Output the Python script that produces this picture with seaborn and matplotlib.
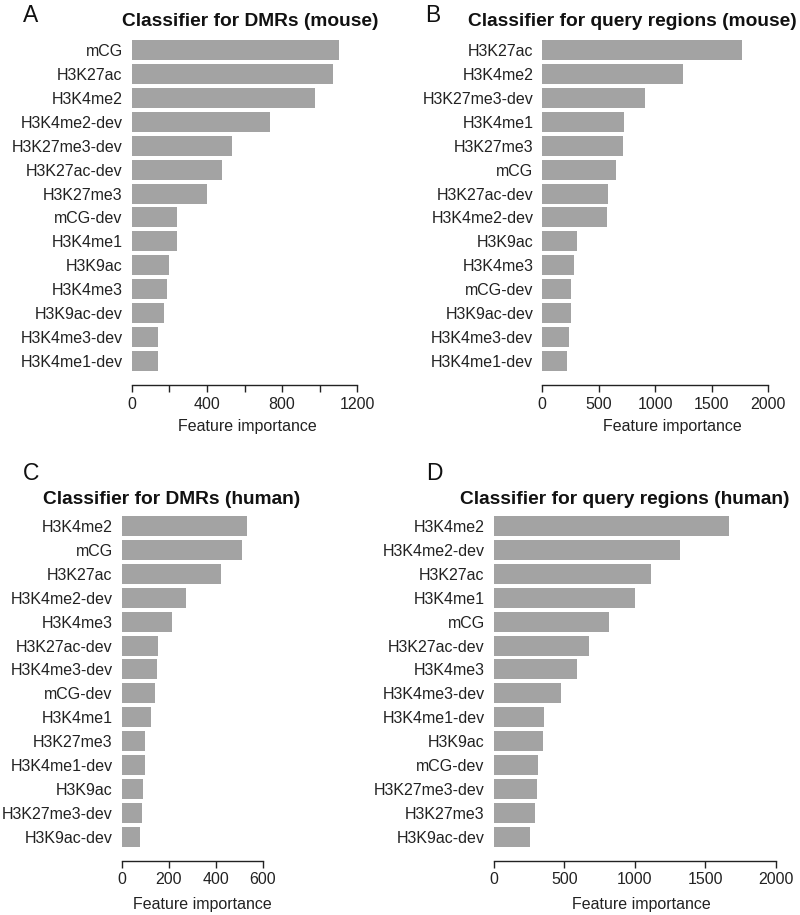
import matplotlib
matplotlib.use("Agg")
import matplotlib.pyplot as plt
import seaborn as sns
import pandas as pd

sns.set_style("white")
plt.rcParams['font.family'] = ['Liberation Sans', 'DejaVu Sans']

# ---- data ----
labels_a = ["mCG", "H3K27ac", "H3K4me2", "H3K4me2-dev", "H3K27me3-dev", "H3K27ac-dev",
            "H3K27me3", "mCG-dev", "H3K4me1", "H3K9ac", "H3K4me3", "H3K9ac-dev",
            "H3K4me3-dev", "H3K4me1-dev"]
values_a = [1101, 1072, 977, 734, 533, 482, 402, 243, 239, 200, 188, 172, 140, 138]

labels_b = ["H3K27ac", "H3K4me2", "H3K27me3-dev", "H3K4me1", "H3K27me3", "mCG",
            "H3K27ac-dev", "H3K4me2-dev", "H3K9ac", "H3K4me3", "mCG-dev", "H3K9ac-dev",
            "H3K4me3-dev", "H3K4me1-dev"]
values_b = [1773, 1244, 907, 727, 712, 650, 582, 576, 304, 281, 254, 251, 236, 216]

labels_c = ["H3K4me2", "mCG", "H3K27ac", "H3K4me2-dev", "H3K4me3", "H3K27ac-dev",
            "H3K4me3-dev", "mCG-dev", "H3K4me1", "H3K27me3", "H3K4me1-dev", "H3K9ac",
            "H3K27me3-dev", "H3K9ac-dev"]
values_c = [531, 511, 422, 272, 212, 153, 149, 143, 126, 99, 98, 89, 85, 79]

labels_d = ["H3K4me2", "H3K4me2-dev", "H3K27ac", "H3K4me1", "mCG", "H3K27ac-dev",
            "H3K4me3", "H3K4me3-dev", "H3K4me1-dev", "H3K9ac", "mCG-dev", "H3K27me3-dev",
            "H3K27me3", "H3K9ac-dev"]
values_d = [1667, 1324, 1118, 1002, 818, 678, 593, 480, 357, 348, 317, 310, 293, 255]

titles = ["Classifier for DMRs (mouse)", "Classifier for query regions (mouse)",
          "Classifier for DMRs (human)", "Classifier for query regions (human)"]
panel_letters = ["A", "B", "C", "D"]
xlabel = "Feature importance"
ticks_a = [0, 200, 400, 600, 800, 1000, 1200]
ticklabels_a = ["0", "", "400", "", "800", "", "1200"]
ticks_b = [0, 500, 1000, 1500, 2000]
ticklabels_b = ["0", "500", "1000", "1500", "2000"]
ticks_c = [0, 200, 400, 600]
ticklabels_c = ["0", "200", "400", "600"]
ticks_d = ticks_b
ticklabels_d = ticklabels_b

W, H = 800, 915
fig = plt.figure(figsize=(W / 100, H / 100), dpi=100)

BAR_COLOR = "#a3a3a3"
FS = 11.5

# layout in pixels: (x0 at 0, x1 at max tick, first bar center, last bar center, axis y)
panels = [
    (labels_a, values_a, ticks_a, ticklabels_a, (131.7, 357.3, 50.0, 361.0, 385.0),
     (121.7, 22.0), (22.7, 16.0), (247.0, 426.7)),
    (labels_b, values_b, ticks_b, ticklabels_b, (542.3, 768.0, 50.0, 361.0, 385.0),
     (468.3, 22.0), (425.0, 16.0), (672.5, 426.7)),
    (labels_c, values_c, ticks_c, ticklabels_c, (121.7, 263.0, 526.0, 836.7, 860.5),
     (43.3, 499.0), (22.7, 473.3), (202.0, 904.0)),
    (labels_d, values_d, ticks_d, ticklabels_d, (493.7, 775.7, 526.0, 836.7, 860.5),
     (460.0, 499.0), (426.0, 473.3), (641.0, 904.0)),
]

for i, (labs, vals, ticks, tlabs, (x0, x1, c0, cl, yax), tpos, lpos, xlpos) in enumerate(panels):
    n = len(labs)
    pitch = (cl - c0) / (n - 1)
    top = c0 - 16
    ax = fig.add_axes([x0 / W, 1 - yax / H, (x1 - x0) / W, (yax - top) / H])
    df = pd.DataFrame({"feature": labs, "importance": vals})
    sns.barplot(data=df, x="importance", y="feature", orient="h", color=BAR_COLOR,
                width=20 / pitch, saturation=1, edgecolor="none", linewidth=0, ax=ax)
    ax.set_xlim(0, ticks[-1])
    ax.set_ylim((yax - c0) / pitch, (top - c0) / pitch)
    for s in ["top", "right", "left"]:
        ax.spines[s].set_visible(False)
    ax.spines["bottom"].set_bounds(0, ticks[-1])
    ax.spines["bottom"].set_linewidth(1.0)
    ax.spines["bottom"].set_color("#222222")
    ax.set_xticks(ticks)
    ax.set_xticklabels(tlabs, fontsize=FS, color="#222222")
    ax.tick_params(axis="x", direction="out", length=5, width=1.0, pad=3.5,
                   color="#222222", bottom=True)
    ax.tick_params(axis="y", length=0, pad=6.5, labelsize=FS, labelcolor="#222222")
    ax.set_xlabel("")
    ax.set_ylabel("")
    ax.grid(False)
    ax.patch.set_alpha(0)

    fig.text(tpos[0] / W, 1 - tpos[1] / H, titles[i], fontsize=13.8, fontweight="bold",
             ha="left", va="center", color="#111111")
    fig.text(lpos[0] / W, 1 - lpos[1] / H, panel_letters[i], fontsize=16.5,
             ha="left", va="center", color="#111111")
    fig.text(xlpos[0] / W, 1 - xlpos[1] / H, xlabel, fontsize=FS,
             ha="center", va="center", color="#222222")

fig.savefig("out.png", dpi=100)
